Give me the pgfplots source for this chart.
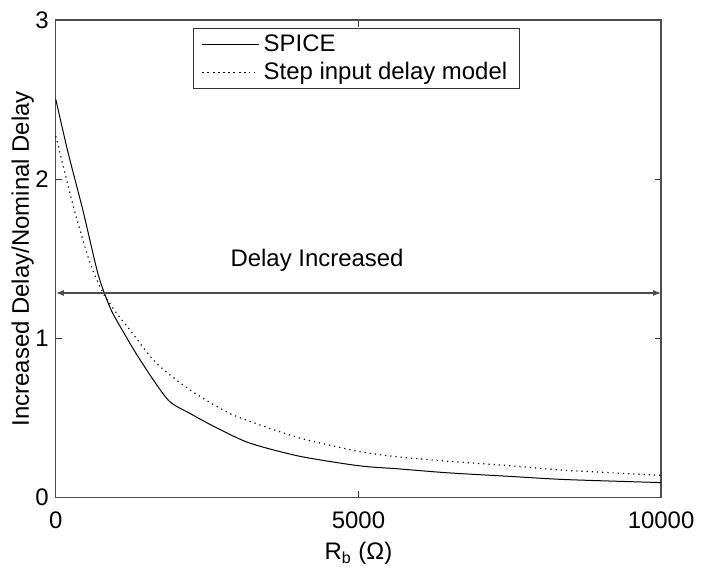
\documentclass[border=0pt]{standalone}
\usepackage{fontspec}
\setmainfont{Liberation Sans}
\usepackage{pgfplots}
\pgfplotsset{compat=1.18}
\usetikzlibrary{arrows.meta}
\begin{document}
\begin{tikzpicture}
\begin{axis}[
  scale only axis, width=303.5pt, height=239.5pt,
  xmin=0, xmax=10000, ymin=0, ymax=3,
  xtick={0,5000,10000}, ytick={0,1,2,3},
  scaled x ticks=false,
  xticklabel style={/pgf/number format/1000 sep={}, yshift=-3.5pt},
  /pgf/number format/assume math mode=true,
  tick align=inside, major tick length=3.3pt,
  tick style={black!80, line width=0.5pt},
  axis line style={black!70, line width=0.6pt},
  font=\fontsize{12}{14.4}\selectfont,
  xlabel={R\textsubscript{b} (Ω)},
  ylabel={Increased Delay/Nominal Delay},
  xlabel style={yshift=0pt},
  ylabel style={yshift=-6pt},
  legend style={at={(rel axis cs:0.227,0.983)}, anchor=north west,
    draw=black!80, line width=0.5pt, inner xsep=4pt, inner ysep=1pt,
    font=\fontsize{12}{14.4}\selectfont, row sep=0pt},
  legend cell align=left,
  legend image code/.code={\draw[#1] (3pt,0pt) -- (23pt,0pt); \path (0pt,0pt) -- (28.5pt,0pt);},
  clip=false,
]
\addplot[black, line width=0.5pt, smooth, tension=0.45] coordinates {
(0,2.50)(200,2.17)(450,1.80)(700,1.40)(900,1.19)(1100,1.05)(1400,0.86)
(1850,0.615)(2208,0.53)(2647,0.44)(3196,0.343)(4020,0.26)(5000,0.20)(5670,0.18)
(6490,0.155)(7500,0.133)(8420,0.113)(10000,0.094)};
\addlegendentry{SPICE}
\addplot[black, line width=0.6pt, dotted, smooth, tension=0.45] coordinates {
(0,2.27)(110,2.1)(310,1.80)(560,1.48)(780,1.285)(1000,1.16)(1219,1.055)
(1659,0.845)(2208,0.678)(2812,0.54)(3196,0.48)(4020,0.375)(5000,0.29)
(5670,0.255)(6490,0.228)(7500,0.20)(8420,0.171)(10000,0.14)};
\addlegendentry{Step input delay model}
\addplot[black!70, line width=0.6pt, {Latex[length=4pt,width=3pt]}-{Latex[length=4pt,width=3pt]}, forget plot] coordinates {(0,1.285)(10000,1.285)};
\node[anchor=center] at (axis cs:4316,1.49) {Delay Increased};
\path (rel axis cs:0,0) ++(-28pt,-34.5pt);
\path (rel axis cs:1,1) ++(19pt,10pt);
\end{axis}
\end{tikzpicture}
\end{document}
